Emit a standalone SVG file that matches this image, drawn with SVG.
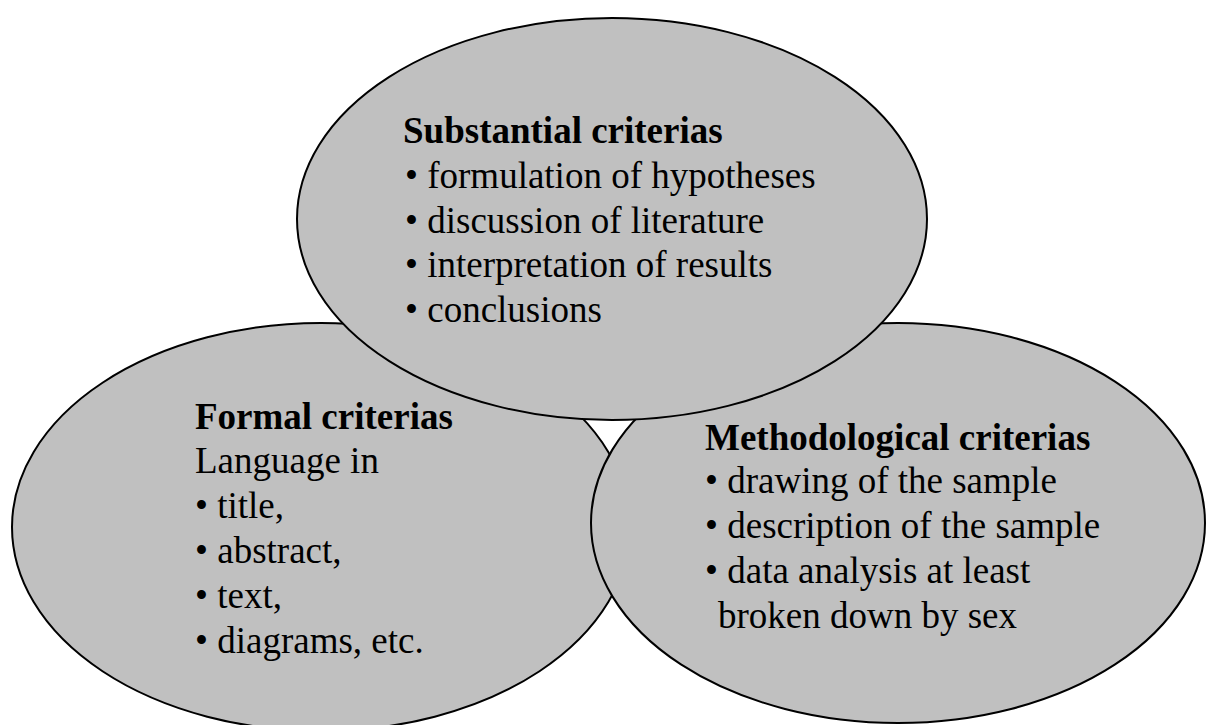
<svg xmlns="http://www.w3.org/2000/svg" width="1208" height="725" viewBox="0 0 1208 725">
<style>
.e{fill:#c0c0c0;stroke:#000;stroke-width:2}
text{font-family:"Liberation Serif","Times New Roman",serif;font-size:37px;fill:#000}
.h{font-weight:bold}
</style>
<rect width="1208" height="725" fill="#fff"/>
<g id="formal">
<ellipse class="e" cx="321" cy="527" rx="309" ry="204"/>
</g>
<g id="methodological">
<ellipse class="e" cx="898" cy="523" rx="307" ry="200"/>
</g>
<g id="substantial">
<ellipse class="e" cx="612" cy="219" rx="315" ry="201"/>
</g>
<g id="connectors"></g>
<g id="formal-text">
<text class="h" x="195" y="429">Formal criterias</text>
<text x="195" y="473">Language in</text>
<text x="195" y="518">• title,</text>
<text x="195" y="563">• abstract,</text>
<text x="195" y="608">• text,</text>
<text x="195" y="653">• diagrams, etc.</text>
</g>
<g id="methodological-text">
<text class="h" x="705" y="450">Methodological criterias</text>
<text x="705" y="493">• drawing of the sample</text>
<text x="705" y="538">• description of the sample</text>
<text x="705" y="583">• data analysis at least</text>
<text x="718" y="628">broken down by sex</text>
</g>
<g id="substantial-text">
<text class="h" x="403" y="143">Substantial criterias</text>
<text x="405" y="188">• formulation of hypotheses</text>
<text x="405" y="233">• discussion of literature</text>
<text x="405" y="277">• interpretation of results</text>
<text x="405" y="322">• conclusions</text>
</g>
</svg>
